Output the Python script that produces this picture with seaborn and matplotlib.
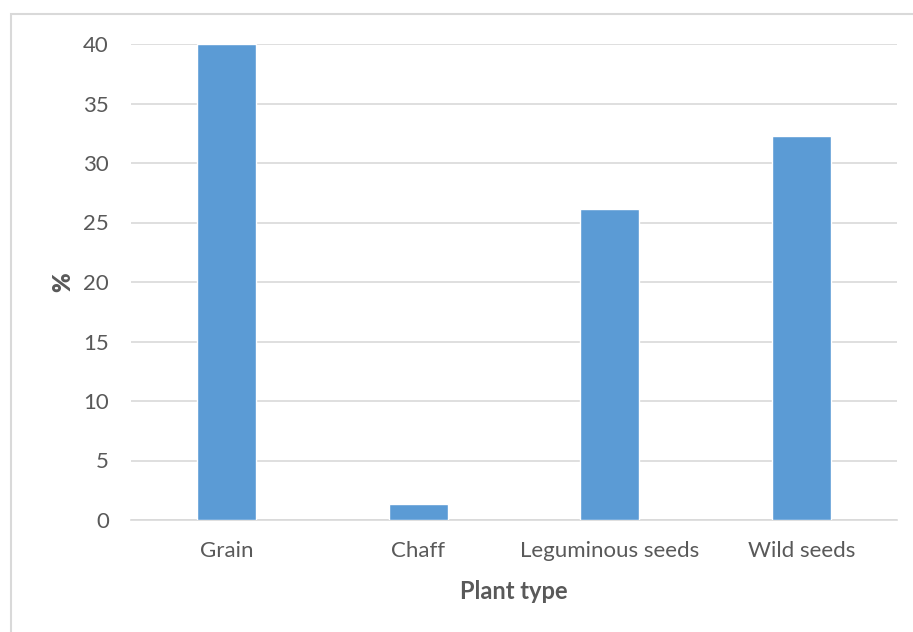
import matplotlib
matplotlib.use("Agg")
import matplotlib.pyplot as plt
import seaborn as sns
import pandas as pd
from matplotlib.patches import Rectangle

plant_types = ["Grain", "Chaff", "Leguminous seeds", "Wild seeds"]
percent = [40.0, 1.35, 26.15, 32.3]
y_ticks = [0, 5, 10, 15, 20, 25, 30, 35, 40]

df = pd.DataFrame({"plant": plant_types, "pct": percent})

sns.set_style("white")
plt.rcParams["font.family"] = ["Lato", "DejaVu Sans"]

W, H = 913, 632
fig = plt.figure(figsize=(W / 100, H / 100), dpi=100)
ax = fig.add_axes([131 / W, (H - 520) / H, (897 - 131) / W, (520 - 44) / H])

sns.barplot(data=df, x="plant", y="pct", color="#5B9BD5", saturation=1,
            width=0.31, ax=ax, zorder=3)

ax.set_xlim(-0.5, 3.5)
ax.set_ylim(0, 40)
ax.set_yticks(y_ticks)
ax.yaxis.grid(True, color="#D9D9D9", linewidth=1.2, zorder=0)
ax.set_axisbelow(True)
for s in ["top", "right", "left"]:
    ax.spines[s].set_visible(False)
ax.spines["bottom"].set_color("#D9D9D9")
ax.spines["bottom"].set_linewidth(1.2)

ax.tick_params(axis="both", length=0, labelsize=16, labelcolor="#595959")
ax.tick_params(axis="y", pad=16)
ax.tick_params(axis="x", pad=15)

ax.set_xlabel("Plant type", fontsize=17, fontweight="bold", color="#595959", labelpad=14)
ax.set_ylabel("%", fontsize=17, fontweight="heavy", color="#595959", labelpad=6)

# outer chart frame (cropped on right and bottom)
fig.patches.append(Rectangle((11 / W, -0.1), 1.2, (H - 14) / H + 0.1,
                             transform=fig.transFigure, fill=False,
                             edgecolor="#D9D9D9", linewidth=1.5))

fig.savefig("out.png", dpi=100, facecolor="white")
